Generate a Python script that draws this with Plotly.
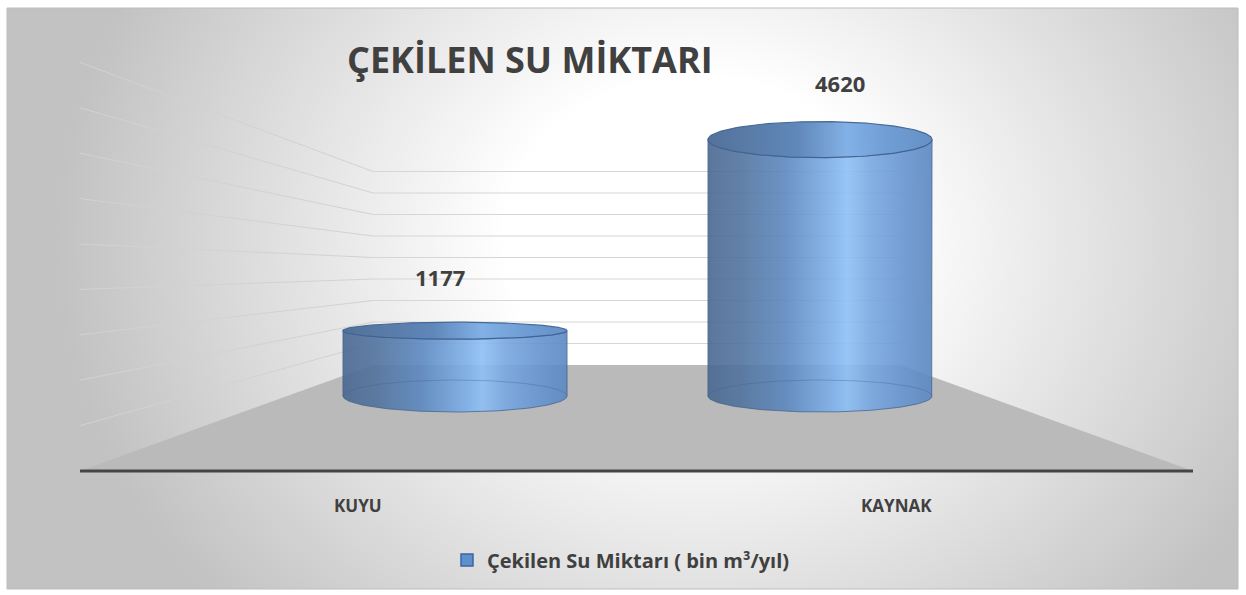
import base64
import numpy as np
import plotly.graph_objects as go

# ---------------- data ----------------
categories = ["KUYU", "KAYNAK"]
values = [1177, 4620]
series_name = "Çekilen Su Miktarı ( bin m³/yıl)"
chart_title = "ÇEKİLEN SU MİKTARI"
grid_values = [500, 1000, 1500, 2000, 2500, 3000, 3500, 4000, 4500]

# ---------------- geometry / style ----------------
W, H = 1246, 595
BASE_PX = 396.0          # pixel row of value 0 (cylinder bottoms)
PX_PER_UNIT = 0.0555     # front (cylinder) plane scale
CAT0_PX, CAT_STEP_PX = 455.0, 365.0
HALF_W = 0.307           # cylinder half width in category units
BOTTOM_RY_PX = 16.0
TOP_RY_PX = [8.5, 18.0]
LABEL_SHIFT = [(-15, 54), (20, 57)]
CAT_LABEL_SHIFT = [-97, 76]

# back-wall / side-wall perspective (pixels)
BACK_X0, BACK_X1, BACK_BASE, BACK_SCALE = 373, 900, 365, 0.043
LEFT_X, LEFT_BASE, LEFT_SCALE = 80, 471, 0.0908
FRONT_X1 = 1193

FRAME = (7, 8, 1238, 589)


def pxx(x):
    return x / W


def pxy(y):
    return 1 - y / H


xr = [-CAT0_PX / CAT_STEP_PX, (W - CAT0_PX) / CAT_STEP_PX]
yr = [-(H - BASE_PX) / PX_PER_UNIT, BASE_PX / PX_PER_UNIT]

fig = go.Figure()

# ---------------- background ----------------
fw, fh = FRAME[2] - FRAME[0], FRAME[3] - FRAME[1]
svg = (
    f'<svg xmlns="http://www.w3.org/2000/svg" width="{fw}" height="{fh}" '
    f'viewBox="0 0 {fw} {fh}" preserveAspectRatio="none"><defs>'
    '<radialGradient id="g" cx="0.56" cy="0.40" r="0.52" '
    'gradientTransform="translate(0.56 0.40) scale(1 1.8) translate(-0.56 -0.40)">'
    '<stop offset="0" stop-color="#ffffff"/><stop offset="0.3" stop-color="#ffffff"/>'
    '<stop offset="1" stop-color="#c2c2c2"/></radialGradient></defs>'
    f'<rect width="{fw}" height="{fh}" fill="url(#g)"/></svg>'
)
src = "data:image/svg+xml;base64," + base64.b64encode(svg.encode()).decode()

shapes = []
# frame border
shapes.append(dict(type="rect", xref="paper", yref="paper",
                   x0=pxx(FRAME[0]), x1=pxx(FRAME[2]), y0=pxy(FRAME[3]), y1=pxy(FRAME[1]),
                   line=dict(color="#bdbdbd", width=1), layer="below"))
# floor
floor_path = (f"M {pxx(BACK_X0)} {pxy(BACK_BASE)} L {pxx(BACK_X1)} {pxy(BACK_BASE)} "
              f"L {pxx(FRONT_X1)} {pxy(LEFT_BASE)} L {pxx(LEFT_X)} {pxy(LEFT_BASE)} Z")
shapes.append(dict(type="path", xref="paper", yref="paper", path=floor_path,
                   fillcolor="#bababa", line=dict(width=0), layer="below"))
# gridlines on back and side walls
for gv in grid_values:
    yb = BACK_BASE - gv * BACK_SCALE
    yl = LEFT_BASE - gv * LEFT_SCALE
    shapes.append(dict(type="line", xref="paper", yref="paper",
                       x0=pxx(BACK_X0), x1=pxx(BACK_X1), y0=pxy(yb), y1=pxy(yb),
                       line=dict(color="#d6d6d6", width=1.2), layer="below"))
    shapes.append(dict(type="line", xref="paper", yref="paper",
                       x0=pxx(LEFT_X), x1=pxx(BACK_X0), y0=pxy(yl), y1=pxy(yb),
                       line=dict(color="#d2d2d2", width=1), layer="below"))
# front baseline
shapes.append(dict(type="line", xref="paper", yref="paper",
                   x0=pxx(LEFT_X), x1=pxx(FRONT_X1), y0=pxy(LEFT_BASE), y1=pxy(LEFT_BASE),
                   line=dict(color="#454545", width=3), layer="below"))

# ---------------- cylinders ----------------
body_scale = [[0.0, "#4a6890"], [0.15, "#52749f"], [0.35, "#5d89c0"], [0.55, "#7eb0ea"],
              [0.62, "#8ec0f6"], [0.72, "#79a9e3"], [0.88, "#6594d0"], [1.0, "#5b88c2"]]
top_scale = [[0.0, "#4b6a94"], [0.4, "#5882b6"], [0.62, "#7cade6"], [0.8, "#6999d2"],
             [1.0, "#5e8bc4"]]

ryb = BOTTOM_RY_PX / PX_PER_UNIT
for i, (cat, v) in enumerate(zip(categories, values)):
    xc = i
    ryt = TOP_RY_PX[i] / PX_PER_UNIT
    t_top = np.linspace(np.pi, 2 * np.pi, 80)
    t_bot = np.linspace(2 * np.pi, np.pi, 80)
    bx = np.concatenate([[xc - HALF_W, xc - HALF_W], xc + HALF_W * np.cos(t_top),
                         [xc + HALF_W], xc + HALF_W * np.cos(t_bot)])
    by = np.concatenate([[0, v], v + ryt * np.sin(t_top), [0], ryb * np.sin(t_bot)])
    fig.add_trace(go.Scatter(x=bx, y=by, mode="lines", fill="toself",
                             fillgradient=dict(type="horizontal", colorscale=body_scale),
                             line=dict(color="rgba(55,88,132,0.75)", width=1),
                             opacity=0.9, hoverinfo="skip", showlegend=False))
    # bottom back arc (seen through)
    t_back = np.linspace(0, np.pi, 60)
    fig.add_trace(go.Scatter(x=xc + HALF_W * np.cos(t_back), y=ryb * np.sin(t_back),
                             mode="lines", line=dict(color="rgba(60,95,145,0.35)", width=1),
                             hoverinfo="skip", showlegend=False))
    # top face
    t_all = np.linspace(0, 2 * np.pi, 160)
    fig.add_trace(go.Scatter(x=xc + HALF_W * np.cos(t_all), y=v + ryt * np.sin(t_all),
                             mode="lines", fill="toself",
                             fillgradient=dict(type="horizontal", colorscale=top_scale),
                             line=dict(color="#3e6393", width=1.2),
                             opacity=0.95, hoverinfo="skip", showlegend=False))

# legend entry
fig.add_trace(go.Bar(x=[None], y=[None], name=f"<b>{series_name}</b>",
                     marker=dict(color="#5e8fcf", line=dict(color="#3a66a0", width=1.5)),
                     showlegend=True))

# ---------------- text ----------------
annotations = []
for i, (cat, v) in enumerate(zip(categories, values)):
    dx, dy = LABEL_SHIFT[i]
    annotations.append(dict(x=i, y=v, xref="x", yref="y", text=f"<b>{v}</b>",
                            showarrow=False, xshift=dx, yshift=dy,
                            font=dict(family="Open Sans", size=22, color="#404040")))
    annotations.append(dict(x=i, y=pxy(505), xref="x", yref="paper", text=f"<b>{cat}</b>",
                            showarrow=False, xshift=CAT_LABEL_SHIFT[i], yanchor="middle",
                            font=dict(family="Open Sans", size=17, color="#404040")))
annotations.append(dict(x=pxx(530), y=pxy(60), xref="paper", yref="paper",
                        text=f"<b>{chart_title}</b>", showarrow=False,
                        xanchor="center", yanchor="middle",
                        font=dict(family="Open Sans", size=36, color="#404040")))

fig.update_layout(
    width=W, height=H,
    margin=dict(l=0, r=0, t=0, b=0),
    paper_bgcolor="white", plot_bgcolor="rgba(0,0,0,0)",
    xaxis=dict(range=xr, visible=False, fixedrange=True),
    yaxis=dict(range=yr, visible=False, fixedrange=True),
    shapes=shapes, annotations=annotations,
    images=[dict(source=src, xref="paper", yref="paper", x=pxx(FRAME[0]), y=pxy(FRAME[1]),
                 sizex=fw / W, sizey=fh / H, xanchor="left", yanchor="top",
                 sizing="stretch", layer="below")],
    legend=dict(orientation="h", x=pxx(621), y=pxy(560), xanchor="center", yanchor="middle",
                bgcolor="rgba(0,0,0,0)", itemwidth=30,
                font=dict(family="Open Sans", size=20, color="#404040")),
    showlegend=True,
)

fig.write_html("out.html", config={"displayModeBar": False},
               post_script="document.body.style.margin='0';")
